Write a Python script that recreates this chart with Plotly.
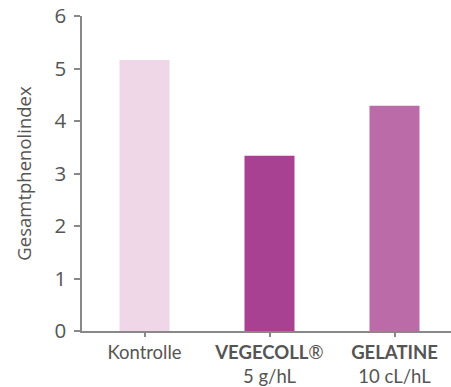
import plotly.graph_objects as go

categories = ["Kontrolle", "<b>VEGECOLL</b>®<br>5 g/hL", "<b>GELATINE</b><br>10 cL/hL"]
values = [5.16, 3.34, 4.29]
colors = ["#EFD7E8", "#A84192", "#BB6CA8"]
y_ticks = [0, 1, 2, 3, 4, 5, 6]

grey = "#555555"
fig = go.Figure(go.Bar(x=[0, 1, 2], y=values, marker=dict(color=colors, line=dict(width=0)), width=0.4))

fig.update_layout(
    width=451, height=387,
    margin=dict(l=82, r=0, t=16, b=55.5),
    plot_bgcolor="white", paper_bgcolor="white",
    showlegend=False,
    font=dict(family="Open Sans", color=grey, size=17),
)
fig.update_xaxes(
    range=[-0.5, 2.452],
    tickmode="array", tickvals=[0, 1, 2], ticktext=categories,
    showline=True, linecolor="#888888", linewidth=1.5,
    ticks="outside", ticklen=4, tickcolor="#888888", tickwidth=1.5,
    showgrid=False, zeroline=False, automargin=False,
    ticklabelstandoff=0,
    tickfont=dict(family="Lato", size=18.5, color=grey),
)
fig.update_yaxes(
    range=[0, 6],
    tickvals=y_ticks,
    showline=True, linecolor="#888888", linewidth=1.5,
    ticks="outside", ticklen=6, tickcolor="#888888", tickwidth=1.5,
    showgrid=False, zeroline=False, automargin=False,
    ticklabelstandoff=4,
    tickfont=dict(family="Open Sans", size=20.5, color=grey),
    title=dict(text="Gesamtphenolindex", font=dict(family="Open Sans", size=18.5, color=grey), standoff=18),
)
fig.write_html("out.html")
